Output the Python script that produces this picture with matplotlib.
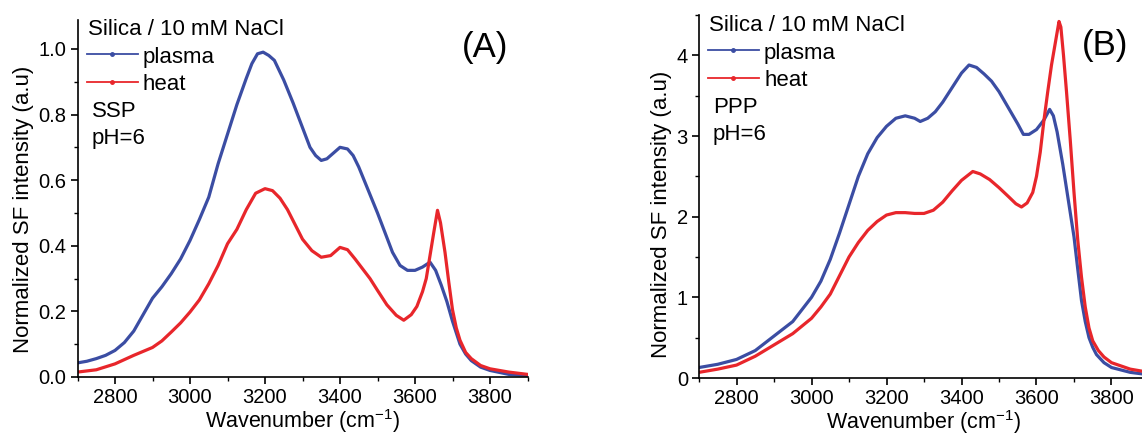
import matplotlib
matplotlib.use("Agg")
import matplotlib.pyplot as plt
from matplotlib.ticker import MultipleLocator, FormatStrFormatter
from matplotlib.lines import Line2D

plt.rcParams['font.family'] = ['Liberation Sans', 'DejaVu Sans']
plt.rcParams['mathtext.fontset'] = 'custom'
plt.rcParams['mathtext.rm'] = 'Liberation Sans'
plt.rcParams['mathtext.it'] = 'Liberation Sans:italic'

# ---------------- data ----------------
# Panel A: SSP
wn_a_plasma = [2700, 2725, 2750, 2775, 2800, 2825, 2850, 2875, 2900, 2925, 2950, 2975, 3000, 3025,
               3050, 3075, 3100, 3125, 3150, 3165, 3180, 3195, 3210, 3225, 3250, 3275, 3300, 3320,
               3335, 3350, 3365, 3380, 3400, 3420, 3435, 3450, 3475, 3500, 3520, 3540, 3560, 3580,
               3600, 3620, 3640, 3655, 3670, 3685, 3700, 3710, 3720, 3735, 3750, 3775, 3800, 3850, 3900]
a_plasma = [0.043, 0.048, 0.056, 0.066, 0.081, 0.105, 0.14, 0.19, 0.24, 0.275, 0.315, 0.36, 0.416, 0.48,
            0.548, 0.65, 0.74, 0.83, 0.91, 0.955, 0.985, 0.99, 0.98, 0.965, 0.905, 0.835, 0.76, 0.70,
            0.675, 0.66, 0.665, 0.68, 0.70, 0.695, 0.675, 0.64, 0.57, 0.50, 0.44, 0.38, 0.34, 0.325,
            0.325, 0.335, 0.35, 0.325, 0.28, 0.23, 0.17, 0.135, 0.10, 0.07, 0.05, 0.03, 0.02, 0.008, 0.005]

wn_a_heat = [2700, 2750, 2800, 2850, 2900, 2925, 2950, 2975, 3000, 3025, 3050, 3075, 3100, 3125,
             3150, 3175, 3200, 3220, 3240, 3260, 3280, 3300, 3325, 3350, 3375, 3400, 3420, 3440,
             3460, 3480, 3500, 3525, 3550, 3570, 3590, 3605, 3620, 3630, 3640, 3650, 3660, 3668,
             3680, 3690, 3700, 3710, 3720, 3735, 3750, 3775, 3800, 3850, 3900]
a_heat = [0.015, 0.022, 0.04, 0.066, 0.09, 0.11, 0.137, 0.165, 0.198, 0.235, 0.284, 0.34, 0.406, 0.45,
          0.51, 0.56, 0.574, 0.568, 0.545, 0.51, 0.465, 0.42, 0.385, 0.365, 0.37, 0.395, 0.388, 0.36,
          0.33, 0.30, 0.264, 0.22, 0.188, 0.173, 0.19, 0.215, 0.26, 0.30, 0.37, 0.44, 0.508, 0.47,
          0.38, 0.29, 0.205, 0.15, 0.112, 0.075, 0.056, 0.035, 0.025, 0.015, 0.008]

# Panel B: PPP
wn_b_plasma = [2700, 2750, 2800, 2850, 2900, 2950, 3000, 3025, 3050, 3075, 3100, 3125, 3150, 3175,
               3200, 3225, 3250, 3275, 3290, 3310, 3330, 3350, 3375, 3400, 3420, 3440, 3460, 3480,
               3500, 3525, 3550, 3565, 3580, 3600, 3620, 3635, 3645, 3655, 3670, 3685, 3700, 3710,
               3720, 3730, 3740, 3750, 3760, 3780, 3800, 3850, 3900]
b_plasma = [0.13, 0.17, 0.23, 0.34, 0.52, 0.70, 1.0, 1.2, 1.47, 1.8, 2.15, 2.5, 2.78, 2.98,
            3.12, 3.22, 3.25, 3.22, 3.18, 3.22, 3.3, 3.42, 3.6, 3.78, 3.88, 3.85, 3.77, 3.68,
            3.55, 3.35, 3.15, 3.02, 3.02, 3.08, 3.2, 3.33, 3.25, 3.05, 2.65, 2.2, 1.75, 1.35,
            0.96, 0.7, 0.5, 0.38, 0.29, 0.19, 0.13, 0.07, 0.04]

wn_b_heat = [2700, 2750, 2800, 2850, 2900, 2950, 3000, 3025, 3050, 3075, 3100, 3125, 3150, 3175,
             3200, 3225, 3250, 3275, 3300, 3325, 3350, 3375, 3400, 3430, 3450, 3475, 3500, 3525,
             3545, 3560, 3575, 3590, 3600, 3610, 3620, 3630, 3640, 3650, 3660, 3665, 3672, 3680,
             3690, 3700, 3710, 3720, 3730, 3740, 3750, 3765, 3780, 3800, 3850, 3900]
b_heat = [0.07, 0.11, 0.16, 0.27, 0.41, 0.55, 0.74, 0.88, 1.04, 1.27, 1.50, 1.68, 1.83, 1.94,
          2.02, 2.05, 2.05, 2.04, 2.04, 2.08, 2.18, 2.32, 2.45, 2.56, 2.53, 2.46, 2.36, 2.25,
          2.16, 2.12, 2.17, 2.3, 2.5, 2.8, 3.2, 3.55, 3.88, 4.15, 4.42, 4.35, 4.0, 3.55,
          2.95, 2.3, 1.71, 1.25, 0.88, 0.62, 0.46, 0.34, 0.26, 0.19, 0.11, 0.07]

series_labels = ["plasma", "heat"]
legend_title = "Silica / 10 mM NaCl"
panel_labels = ["(A)", "(B)"]
pol_labels = [["SSP", "pH=6"], ["PPP", "pH=6"]]
xlabel = "Wavenumber (cm$^{-1}$)"
ylabel = "Normalized SF intensity (a.u)"

BLUE = "#3b4da3"
RED = "#e8262b"

W, H = 1142, 438
fig = plt.figure(figsize=(W / 100, H / 100), dpi=100)


def fx(x):
    return x / W


def fy(y):
    return 1 - y / H


axA = fig.add_axes([fx(77.5), fy(377), 450 / W, 357 / H])
axB = fig.add_axes([fx(699), fy(378), 450 / W, 363 / H])

panels = [
    (axA, wn_a_plasma, a_plasma, wn_a_heat, a_heat, (0, 1.088), 0.2, 0.1, "%.1f", 0, 0, 0.47),
    (axB, wn_b_plasma, b_plasma, wn_b_heat, b_heat, (0, 4.5), 1, 0.5, "%d", 621, -4, 0.45),
]

FS_TICK = 14.5
FS_LAB = 16
FS_XLAB = 15.5
FS_LEG = 16

for i, (ax, xp, yp, xh, yh, ylim, ymaj, ymin, fmt, dx, dy, ylab_y) in enumerate(panels):
    ax.plot(xp, yp, color=BLUE, lw=2.3, solid_joinstyle='round')
    ax.plot(xh, yh, color=RED, lw=2.3, solid_joinstyle='round')
    ax.set_xlim(2700, 3900)
    ax.set_ylim(*ylim)
    ax.xaxis.set_major_locator(MultipleLocator(200))
    ax.xaxis.set_minor_locator(MultipleLocator(100))
    ax.yaxis.set_major_locator(MultipleLocator(ymaj))
    ax.yaxis.set_minor_locator(MultipleLocator(ymin))
    ax.yaxis.set_major_formatter(FormatStrFormatter(fmt))
    for s in ("top", "right"):
        ax.spines[s].set_visible(False)
    for s in ("left", "bottom"):
        ax.spines[s].set_linewidth(1.2)
    ax.tick_params(which='major', direction='out', length=5, width=1.2, labelsize=FS_TICK, pad=3)
    ax.tick_params(which='minor', direction='out', length=3, width=1.0)
    ax.set_xlabel(xlabel, fontsize=FS_XLAB, labelpad=0)
    ax.set_ylabel(ylabel, fontsize=FS_LAB, labelpad=3, y=ylab_y)

    # legend (drawn in figure pixel coordinates)
    fig.text(fx(88 + dx), fy(35 + dy), legend_title, fontsize=FS_LEG, va='baseline', ha='left')
    for k, (lab, col, ly, ty) in enumerate([(series_labels[0], BLUE, 54, 63),
                                              (series_labels[1], RED, 82, 90)]):
        fig.add_artist(Line2D([fx(87 + dx), fx(112 + dx), fx(138 + dx)],
                              [fy(ly + dy)] * 3, color=col, lw=1.3,
                              marker='o', markersize=2.5, markevery=[1],
                              transform=fig.transFigure))
        fig.text(fx(143 + dx), fy(ty + dy), lab, fontsize=FS_LEG, va='baseline', ha='left')
    fig.text(fx(92 + dx), fy(118 + dy - 1), pol_labels[i][0], fontsize=FS_LEG, va='baseline', ha='left')
    fig.text(fx(92 + dx), fy(145 + dy - 1), pol_labels[i][1], fontsize=FS_LEG, va='baseline', ha='left')

fig.text(fx(485), fy(47), panel_labels[0], fontsize=25, ha='center', va='center')
fig.text(fx(1105), fy(45), panel_labels[1], fontsize=25, ha='center', va='center')

fig.savefig("out.png", dpi=100)
